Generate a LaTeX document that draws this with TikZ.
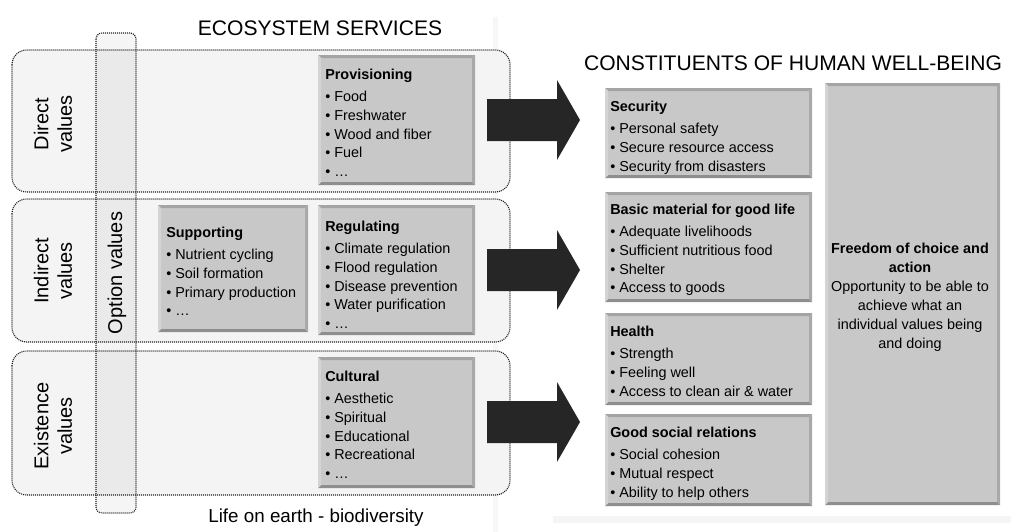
\documentclass[tikz,border=0pt]{standalone}
\usepackage{fontspec}
\setmainfont{Liberation Sans}
\definecolor{boxfill}{HTML}{C8C8C8}
\definecolor{bevtop}{HTML}{A4A4A4}
\definecolor{bevbot}{HTML}{8E8E8E}
\definecolor{bevright}{HTML}{A9A9A9}
\definecolor{bevleft}{HTML}{D4D4D4}
\definecolor{rowfill}{HTML}{F4F4F4}
\definecolor{arrowfill}{HTML}{262626}
\definecolor{dotline}{HTML}{1E1E1E}
% a grey bevelled box: name, x1, y1, x2, y2
\newcommand\svcbox[5]{%
  \fill[boxfill] (#2,#3) rectangle (#4,#5);
  \fill[bevtop] (#2,#3) -- (#4,#3) -- (#4-3,#3+3) -- (#2+3,#3+3) -- cycle;
  \fill[bevbot] (#2,#5) -- (#4,#5) -- (#4-3,#5-3) -- (#2+3,#5-3) -- cycle;
  \fill[bevright] (#4,#3) -- (#4,#5) -- (#4-3,#5-3) -- (#4-3,#3+3) -- cycle;
  \fill[bevleft] (#2,#3) -- (#2,#5) -- (#2+3,#5-3) -- (#2+3,#3+3) -- cycle;
  \coordinate (#1) at ({(#2+#4)/2},{(#3+#5)/2});
}
% a block arrow pointing right: name, x start, x head, x tip, centre y
\newcommand\blockarrow[5]{%
  \fill[arrowfill] (#2,#5-21) -- (#3,#5-21) -- (#3,#5-40) -- (#4,#5)
     -- (#3,#5+40) -- (#3,#5+21) -- (#2,#5+21) -- cycle;
  \coordinate (#1) at (#4,#5);
}
\begin{document}
\begin{tikzpicture}[x=0.75pt,y=-0.75pt,
  rowbox/.style={draw=dotline, line width=0.85pt, dash pattern=on 0.75pt off 0.75pt,
    rounded corners=11pt},
  optbox/.style={draw=dotline, line width=0.85pt, dash pattern=on 0.75pt off 0.75pt,
    rounded corners=4.5pt},
  title/.style={font=\fontsize{15.8}{18}\selectfont, inner sep=0},
  sidelabel/.style={rotate=90, align=center, inner sep=0,
    font=\fontsize{15}{17.5}\selectfont},
  list/.style={anchor=north west, align=left, inner sep=0,
    font=\fontsize{10.8}{14}\selectfont},
  freetext/.style={align=center, inner sep=0, font=\fontsize{10.8}{14.2}\selectfont}
]
\useasboundingbox (0,0) rectangle (1011,532);

% faint page furniture
\fill[black!3] (493,17) rectangle (498,532);
\fill[black!4] (553,516) rectangle (1011,523);

% value rows and the option-values column
\fill[rowfill, rounded corners=11pt] (12,50) rectangle (510,192);
\fill[rowfill, rounded corners=11pt] (12,199) rectangle (510,342);
\fill[rowfill, rounded corners=11pt] (12,351) rectangle (510,495);
\fill[black, fill opacity=0.04, rounded corners=4.5pt] (96,33) rectangle (136,513);
\draw[rowbox] (12,50) rectangle (510,192);
\draw[rowbox] (12,199) rectangle (510,342);
\draw[rowbox] (12,351) rectangle (510,495);
\draw[optbox] (96,33) rectangle (136,513);

\node[sidelabel] (direct) at (53,124) {Direct\\values};
\node[sidelabel] (indirect) at (53,271) {Indirect\\values};
\node[sidelabel] (existence) at (53,426) {Existence\\values};
\node[sidelabel] (option) at (117,273) {Option values};

% titles
\node[title] (es) at (320,28) {ECOSYSTEM SERVICES};
\node[title] (chwb) at (793,63) {CONSTITUENTS OF HUMAN WELL-BEING};
\node[inner sep=0, font=\fontsize{14.1}{16}\selectfont] (life) at (316,518) {Life on earth - biodiversity};

% ecosystem service boxes
\svcbox{prov}{318}{55}{475}{185}
\svcbox{supp}{158}{205}{308}{332}
\svcbox{reg}{318}{205}{475}{335}
\svcbox{cult}{318}{357}{475}{488}

\node[list] (provt) at (325,69) {\textbf{Provisioning}\\[2.5pt]
  • Food\\ • Freshwater\\ • Wood and fiber\\ • Fuel\\ • …};
\node[list] (suppt) at (166,227) {\textbf{Supporting}\\[2.5pt]
  • Nutrient cycling\\ • Soil formation\\ • Primary production\\ • …};
\node[list] (regt) at (325,221) {\textbf{Regulating}\\[2.5pt]
  • Climate regulation\\ • Flood regulation\\ • Disease prevention\\
  • Water purification\\ • …};
\node[list] (cultt) at (325,371) {\textbf{Cultural}\\[2.5pt]
  • Aesthetic\\ • Spiritual\\ • Educational\\ • Recreational\\ • …};

% well-being boxes
\svcbox{sec}{605}{88}{812}{178}
\svcbox{basic}{605}{192}{812}{302}
\svcbox{health}{605}{313}{812}{405}
\svcbox{social}{605}{414}{812}{506}
\svcbox{freedom}{825}{83}{1000}{505}

\node[list] (sect) at (610,101) {\textbf{Security}\\[2.5pt]
  • Personal safety\\ • Secure resource access\\ • Security from disasters};
\node[list] (basict) at (610,204) {\textbf{Basic material for good life}\\[2.5pt]
  • Adequate livelihoods\\ • Sufficient nutritious food\\ • Shelter\\ • Access to goods};
\node[list] (healtht) at (610,326) {\textbf{Health}\\[2.5pt]
  • Strength\\ • Feeling well\\ • Access to clean air \& water};
\node[list] (socialt) at (610,427) {\textbf{Good social relations}\\[2.5pt]
  • Social cohesion\\ • Mutual respect\\ • Ability to help others};
\node[freetext] (freet) at (910,297) {\textbf{Freedom of choice and}\\\textbf{action}\\
  Opportunity to be able to\\ achieve what an\\ individual values being\\ and doing};

% block arrows from services to well-being
\blockarrow{a1}{487}{557}{580}{120}
\blockarrow{a2}{487}{557}{580}{270}
\blockarrow{a3}{487}{557}{580}{422}
\end{tikzpicture}
\end{document}
